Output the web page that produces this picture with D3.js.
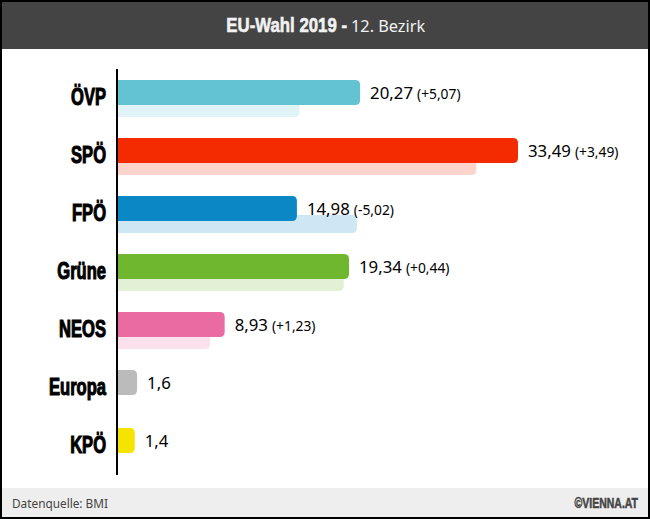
<!DOCTYPE html>
<html>
<head>
<meta charset="utf-8">
<script src="https://cdn.jsdelivr.net/npm/d3@7"></script>
<style>
  html, body { margin: 0; padding: 0; background: #fff; }
  svg { display: block; }
  .party text { font-family: "Liberation Sans", sans-serif; font-weight: 700; font-size: 23px; fill: #000; stroke: #000; stroke-width: 1.1px; }
  .value { font-family: "Noto Sans", sans-serif; font-size: 16.8px; fill: #000; }
  .diff { font-size: 13.8px; }
</style>
</head>
<body>
<div id="chart"></div>
<script>
// Values
var parties = ["ÖVP", "SPÖ", "FPÖ", "Grüne", "NEOS", "Europa", "KPÖ"];
var results = [20.27, 33.49, 14.98, 19.34, 8.93, 1.6, 1.4];
var previous = [15.2, 30, 20, 18.9, 7.7, null, null];
var diffs = ["(+5,07)", "(+3,49)", "(-5,02)", "(+0,44)", "(+1,23)", "", ""];
var labels = ["20,27", "33,49", "14,98", "19,34", "8,93", "1,6", "1,4"];
var colors = ["#64c3d2", "#f42a00", "#0a88c6", "#6eb72f", "#ea6aa2", "#bbbbbb", "#f5e400"];

var width = 650, height = 519;
var svg = d3.select("#chart").append("svg").attr("width", width).attr("height", height);

// Scales
var x = d3.scaleLinear().domain([0, 33.49]).range([118, 518]);
var y = d3.scaleBand().domain(parties).range([69, 475]);
var barOffset = 11, barHeight = 25, prevHeight = 12;

// Header and footer
svg.append("rect").attr("x", 0).attr("y", 0).attr("width", width).attr("height", 49).attr("fill", "#444444");
svg.append("rect").attr("x", 0).attr("y", 488).attr("width", width).attr("height", 29).attr("fill", "#eeeeee");

// no condensed font installed, so squeeze the bold ones horizontally
svg.append("text").text("EU-Wahl 2019 -")
  .attr("transform", "translate(347,32) scale(0.8,1)")
  .attr("text-anchor", "end").attr("fill", "#f2f2f2").attr("stroke", "#f2f2f2").attr("stroke-width", 0.6)
  .attr("font-family", "'Liberation Sans', sans-serif").attr("font-weight", 700).attr("font-size", 21);
svg.append("text").text("12. Bezirk")
  .attr("x", 351).attr("y", 32).attr("fill", "#f2f2f2")
  .attr("font-family", "'Noto Sans', sans-serif").attr("font-size", 16.3);

svg.append("text").text("Datenquelle: BMI")
  .attr("x", 12).attr("y", 508).attr("fill", "#444")
  .attr("font-family", "'Noto Sans', sans-serif").attr("font-size", 11.8);
svg.append("text").text("©VIENNA.AT")
  .attr("transform", "translate(638,508) scale(0.75,1)")
  .attr("text-anchor", "end").attr("fill", "#444").attr("stroke", "#444").attr("stroke-width", 0.5)
  .attr("font-family", "'Liberation Sans', sans-serif").attr("font-weight", 700).attr("font-size", 14);

// Bar with rounded right corners
function barPath(x0, x1, top, h, r) {
  return "M" + x0 + "," + top + "H" + (x1 - r) + "Q" + x1 + "," + top + " " + x1 + "," + (top + r) +
    "V" + (top + h - r) + "Q" + x1 + "," + (top + h) + " " + (x1 - r) + "," + (top + h) + "H" + x0 + "Z";
}

// Previous election bars, pale, sticking out under the main bars
parties.forEach(function (p, i) {
  if (previous[i] === null) return;
  svg.append("path")
    .attr("d", barPath(x(0), x(previous[i]), y(p) + barOffset + barHeight - 6, prevHeight + 6, 5))
    .attr("fill", colors[i]).attr("opacity", 0.2);
});

// Main bars
parties.forEach(function (p, i) {
  svg.append("path")
    .attr("d", barPath(x(0), x(results[i]), y(p) + barOffset, barHeight, 5))
    .attr("fill", colors[i]);
});

// Value labels
parties.forEach(function (p, i) {
  var t = svg.append("text").attr("class", "value")
    .attr("x", x(results[i]) + 10).attr("y", y(p) + barOffset + 19);
  t.append("tspan").text(labels[i]);
  if (diffs[i]) t.append("tspan").attr("class", "diff").attr("dx", 4).text(diffs[i]);
});

// Party axis
var squeeze = 0.72;
var axis = svg.append("g").attr("class", "party")
  .attr("transform", "translate(117,0)")
  .call(d3.axisLeft(y).tickSize(0).tickPadding(0).offset(0));
axis.select(".domain").attr("stroke", "#000").attr("stroke-width", 2);
axis.selectAll(".tick text")
  .attr("x", -11 / squeeze)
  .attr("transform", "scale(" + squeeze + ",1)");

// Outer frame
svg.append("rect").attr("x", 1).attr("y", 1).attr("width", width - 2).attr("height", height - 2)
  .attr("fill", "none").attr("stroke", "#000").attr("stroke-width", 2);
</script>
</body>
</html>
